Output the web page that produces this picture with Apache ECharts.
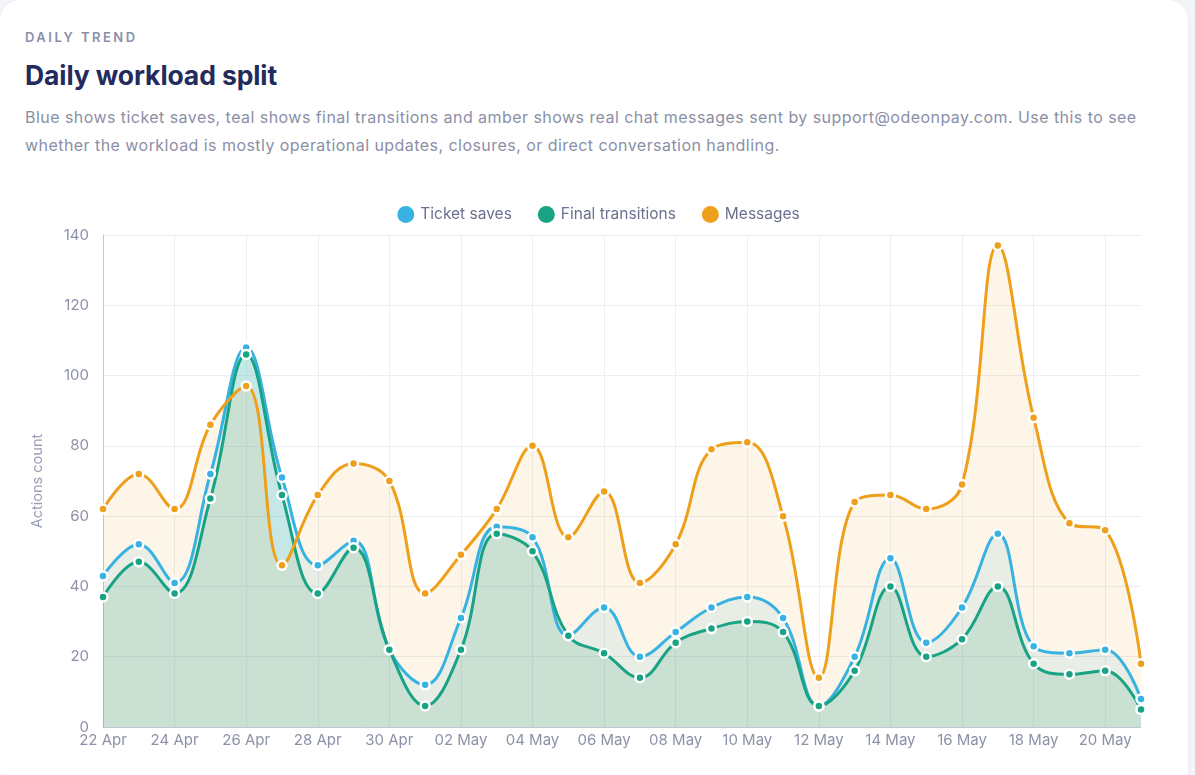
<!DOCTYPE html>
<html>
<head>
<meta charset="utf-8">
<script src="https://cdn.jsdelivr.net/npm/echarts@6/dist/echarts.min.js"></script>
<style>
  html, body { margin: 0; padding: 0; background: #f4f5f9; }
  .card {
    position: absolute; left: 0; top: 0; width: 1188px; height: 790px;
    background: #fff; border-radius: 20px;
    box-shadow: 0 0 0 1px #eceef3, 0 2px 8px rgba(30,40,90,0.04);
    font-family: Inter, "Noto Sans", sans-serif;
  }
  .eyebrow { position: absolute; left: 25px; top: 29px; font-size: 13px; font-weight: 600; letter-spacing: 2.5px; color: #8a8fa8; }
  .title { position: absolute; left: 25px; top: 59px; font-size: 26.5px; font-weight: 700; color: #232a5c; letter-spacing: -0.1px; }
  .desc { position: absolute; left: 25px; top: 103px; width: 1140px; font-size: 16px; line-height: 28px; letter-spacing: 0.45px; color: #8b8fa6; }
  #main { position: absolute; left: 0; top: 180px; width: 1195px; height: 595px; }
</style>
</head>
<body>
<div class="card">
  <div class="eyebrow">DAILY TREND</div>
  <div class="title">Daily workload split</div>
  <div class="desc">Blue shows ticket saves, teal shows final transitions and amber shows real chat messages sent by support@odeonpay.com. Use this to see whether the workload is mostly operational updates, closures, or direct conversation handling.</div>
</div>
<div id="main"></div>
<script>
  var days = ['22 Apr', '23 Apr', '24 Apr', '25 Apr', '26 Apr', '27 Apr', '28 Apr', '29 Apr', '30 Apr',
    '01 May', '02 May', '03 May', '04 May', '05 May', '06 May', '07 May', '08 May', '09 May', '10 May',
    '11 May', '12 May', '13 May', '14 May', '15 May', '16 May', '17 May', '18 May', '19 May', '20 May', '21 May'];

  // 工单保存
  var ticketSaves = [43, 52, 41, 72, 108, 71, 46, 53, 22, 12, 31, 57, 54, 26, 34, 20, 27, 34, 37, 31,
    6, 20, 48, 24, 34, 55, 23, 21, 22, 8];
  // 最终状态变更
  var finalTransitions = [37, 47, 38, 65, 106, 66, 38, 51, 22, 6, 22, 55, 50, 26, 21, 14, 24, 28, 30, 27,
    6, 16, 40, 20, 25, 40, 18, 15, 16, 5];
  // 消息
  var messages = [62, 72, 62, 86, 97, 46, 66, 75, 70, 38, 49, 62, 80, 54, 67, 41, 52, 79, 81, 60,
    14, 64, 66, 62, 69, 137, 88, 58, 56, 18];

  var axisFont = 'Inter, "Noto Sans", sans-serif';

  function makeSeries(name, data, color, fillOpacity) {
    return {
      name: name,
      type: 'line',
      smooth: 0.4,
      data: data,
      symbol: 'circle',
      symbolSize: 9,
      showSymbol: true,
      lineStyle: { width: 3, color: color },
      itemStyle: { color: color, borderColor: '#fff', borderWidth: 2.5 },
      areaStyle: { color: color, opacity: fillOpacity }
    };
  }

  var myChart = echarts.init(document.getElementById('main'));

  var option = {
    animation: false,
    color: ['#38bdf8', '#14b8a6', '#f59e0b'],
    legend: {
      top: 19,
      left: 'center',
      icon: 'circle',
      itemWidth: 19,
      itemHeight: 19,
      itemGap: 24,
      textStyle: { fontSize: 15.5, color: '#6b7090', fontFamily: axisFont },
      data: ['Ticket saves', 'Final transitions', 'Messages']
    },
    grid: { left: 103, right: 54, top: 55, bottom: 48 },
    xAxis: {
      type: 'category',
      boundaryGap: false,
      data: days,
      axisLine: { lineStyle: { color: '#c4c7d2' } },
      axisTick: { show: false },
      axisLabel: { interval: 1, fontSize: 15, color: '#8d91a8', fontFamily: axisFont, margin: 6 },
      splitLine: { show: true, interval: 1, lineStyle: { color: '#eceef2' } }
    },
    yAxis: {
      type: 'value',
      min: 0,
      max: 140,
      interval: 20,
      name: 'Actions count',
      nameLocation: 'middle',
      nameGap: 58,
      nameTextStyle: { fontSize: 14.5, color: '#9a9eb5', fontFamily: axisFont },
      axisLine: { show: true, lineStyle: { color: '#c4c7d2' } },
      axisLabel: { fontSize: 15, color: '#8d91a8', fontFamily: axisFont, margin: 14 },
      splitLine: { lineStyle: { color: '#eceef2' } }
    },
    series: [
      makeSeries('Ticket saves', ticketSaves, '#38b2e0', 0.12),
      makeSeries('Final transitions', finalTransitions, '#18a385', 0.16),
      makeSeries('Messages', messages, '#eea01c', 0.1)
    ]
  };

  myChart.setOption(option);
</script>
</body>
</html>
